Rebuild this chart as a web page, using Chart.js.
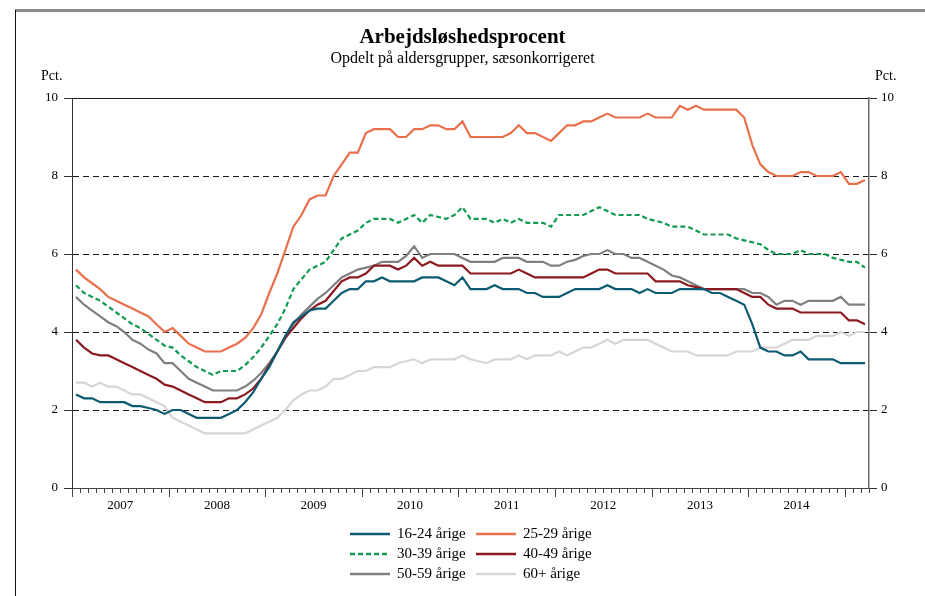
<!DOCTYPE html>
<html lang="da">
<head>
  <meta charset="UTF-8">
  <title>Arbejdsløshedsprocent</title>
  <script src="https://cdn.jsdelivr.net/npm/chart.js"></script>
  <style>
    body {
      margin: 0;
      background: #fff;
      font-family: 'Liberation Serif', serif;
      color: #000;
    }
    .page {
      position: relative;
      width: 925px;
      height: 596px;
      overflow: hidden;
    }
    .frame-top {
      position: absolute;
      left: 15px; top: 9px;
      width: 910px; height: 3px;
      background: #8a8a8a;
    }
    .frame-left {
      position: absolute;
      left: 15px; top: 10px;
      width: 1px; height: 586px;
      background: #111;
    }
    .chart-box {
      position: absolute;
      left: 0; top: 0;
      width: 925px; height: 596px;
    }
    h1, h2, .unit {
      position: absolute;
      margin: 0;
      white-space: nowrap;
    }
    h1 {
      left: 0; width: 925px; top: 24px;
      text-align: center;
      font-size: 21px;
      font-weight: bold;
    }
    h2 {
      left: 0; width: 925px; top: 49px;
      text-align: center;
      font-size: 16px;
      font-weight: normal;
    }
    .unit { top: 68px; font-size: 14px; }
    #legend {
      position: absolute;
      left: 350px; top: 524px;
      display: grid;
      grid-template-columns: 126px 126px;
      row-gap: 1px;
      font-size: 15px;
    }
    .item { display: flex; align-items: center; height: 19px; }
    .item svg { margin-right: 7px; }
  </style>
</head>
<body>
  <div class="page">
    <div class="frame-top"></div>
    <div class="frame-left"></div>
    <div class="chart-box"><canvas id="chart"></canvas></div>
    <h1>Arbejdsløshedsprocent</h1>
    <h2>Opdelt på aldersgrupper, sæsonkorrigeret</h2>
    <div class="unit" style="left:41px">Pct.</div>
    <div class="unit" style="left:875px">Pct.</div>
    <div id="legend"></div>
  </div>

  <script>
    // monthly, jan 2007 - mar 2015
    const years = ['2007', '2008', '2009', '2010', '2011', '2012', '2013', '2014'];
    const yTicks = [0, 2, 4, 6, 8, 10];

    const seriesNames = ['16-24 årige', '25-29 årige', '30-39 årige', '40-49 årige', '50-59 årige', '60+ årige'];

    const age1624 = [
      2.4, 2.3, 2.3, 2.2, 2.2, 2.2, 2.2, 2.1, 2.1, 2.05, 2.0, 1.9,
      2.0, 2.0, 1.9, 1.8, 1.8, 1.8, 1.8, 1.9, 2.0, 2.2, 2.45, 2.8,
      3.1, 3.5, 3.9, 4.25, 4.4, 4.55, 4.6, 4.6, 4.8, 5.0, 5.1, 5.1,
      5.3, 5.3, 5.4, 5.3, 5.3, 5.3, 5.3, 5.4, 5.4, 5.4, 5.3, 5.2,
      5.4, 5.1, 5.1, 5.1, 5.2, 5.1, 5.1, 5.1, 5.0, 5.0, 4.9, 4.9,
      4.9, 5.0, 5.1, 5.1, 5.1, 5.1, 5.2, 5.1, 5.1, 5.1, 5.0, 5.1,
      5.0, 5.0, 5.0, 5.1, 5.1, 5.1, 5.1, 5.0, 5.0, 4.9, 4.8, 4.7,
      4.2, 3.6, 3.5, 3.5, 3.4, 3.4, 3.5, 3.3, 3.3, 3.3, 3.3, 3.2,
      3.2, 3.2, 3.2
    ];
    const age2529 = [
      5.6, 5.4, 5.25, 5.1, 4.9, 4.8, 4.7, 4.6, 4.5, 4.4, 4.2, 4.0,
      4.1, 3.9, 3.7, 3.6, 3.5, 3.5, 3.5, 3.6, 3.7, 3.85, 4.1, 4.45,
      5.0, 5.5, 6.1, 6.7, 7.0, 7.4, 7.5, 7.5, 8.0, 8.3, 8.6, 8.6,
      9.1, 9.2, 9.2, 9.2, 9.0, 9.0, 9.2, 9.2, 9.3, 9.3, 9.2, 9.2,
      9.4, 9.0, 9.0, 9.0, 9.0, 9.0, 9.1, 9.3, 9.1, 9.1, 9.0, 8.9,
      9.1, 9.3, 9.3, 9.4, 9.4, 9.5, 9.6, 9.5, 9.5, 9.5, 9.5, 9.6,
      9.5, 9.5, 9.5, 9.8, 9.7, 9.8, 9.7, 9.7, 9.7, 9.7, 9.7, 9.5,
      8.8, 8.3, 8.1, 8.0, 8.0, 8.0, 8.1, 8.1, 8.0, 8.0, 8.0, 8.1,
      7.8, 7.8, 7.9
    ];
    const age3039 = [
      5.2, 5.0, 4.9, 4.8, 4.65, 4.5, 4.35, 4.2, 4.1, 3.95, 3.8, 3.65,
      3.6, 3.4, 3.25, 3.1, 3.0, 2.9, 3.0, 3.0, 3.0, 3.15, 3.35, 3.6,
      3.9, 4.2, 4.6, 5.1, 5.35, 5.6, 5.7, 5.8, 6.1, 6.4, 6.5, 6.6,
      6.8, 6.9, 6.9, 6.9, 6.8, 6.9, 7.0, 6.8, 7.0, 6.95, 6.9, 7.0,
      7.2, 6.9, 6.9, 6.9, 6.8, 6.9, 6.8, 6.9, 6.8, 6.8, 6.8, 6.7,
      7.0, 7.0, 7.0, 7.0, 7.1, 7.2, 7.1, 7.0, 7.0, 7.0, 7.0, 6.9,
      6.85, 6.8, 6.7, 6.7, 6.7, 6.6, 6.5, 6.5, 6.5, 6.5, 6.4, 6.35,
      6.3, 6.25, 6.1, 6.0, 6.0, 6.0, 6.1, 6.0, 6.0, 6.0, 5.9, 5.85,
      5.8, 5.8, 5.65
    ];
    const age4049 = [
      3.8, 3.6, 3.45, 3.4, 3.4, 3.3, 3.2, 3.1, 3.0, 2.9, 2.8, 2.65,
      2.6, 2.5, 2.4, 2.3, 2.2, 2.2, 2.2, 2.3, 2.3, 2.4, 2.55, 2.8,
      3.15, 3.5, 3.85, 4.1, 4.35, 4.55, 4.7, 4.8, 5.05, 5.3, 5.4, 5.4,
      5.5, 5.7, 5.7, 5.7, 5.6, 5.7, 5.9, 5.7, 5.8, 5.7, 5.7, 5.7,
      5.7, 5.5, 5.5, 5.5, 5.5, 5.5, 5.5, 5.6, 5.5, 5.4, 5.4, 5.4,
      5.4, 5.4, 5.4, 5.4, 5.5, 5.6, 5.6, 5.5, 5.5, 5.5, 5.5, 5.5,
      5.3, 5.3, 5.3, 5.3, 5.2, 5.15, 5.1, 5.1, 5.1, 5.1, 5.1, 5.0,
      4.9, 4.9, 4.7, 4.6, 4.6, 4.6, 4.5, 4.5, 4.5, 4.5, 4.5, 4.5,
      4.3, 4.3, 4.2
    ];
    const age5059 = [
      4.9, 4.7, 4.55, 4.4, 4.25, 4.15, 4.0, 3.8, 3.7, 3.55, 3.45, 3.2,
      3.2, 3.0, 2.8, 2.7, 2.6, 2.5, 2.5, 2.5, 2.5, 2.6, 2.75, 2.95,
      3.2, 3.5, 3.85, 4.2, 4.45, 4.65, 4.85, 5.0, 5.2, 5.4, 5.5, 5.6,
      5.65, 5.7, 5.8, 5.8, 5.8, 5.95, 6.2, 5.9, 6.0, 6.0, 6.0, 6.0,
      5.9, 5.8, 5.8, 5.8, 5.8, 5.9, 5.9, 5.9, 5.8, 5.8, 5.8, 5.7,
      5.7, 5.8, 5.85, 5.95, 6.0, 6.0, 6.1, 6.0, 6.0, 5.9, 5.9, 5.8,
      5.7, 5.6, 5.45, 5.4, 5.3, 5.2, 5.1, 5.1, 5.1, 5.1, 5.1, 5.1,
      5.0, 5.0, 4.9, 4.7, 4.8, 4.8, 4.7, 4.8, 4.8, 4.8, 4.8, 4.9,
      4.7, 4.7, 4.7
    ];
    const age60plus = [
      2.7, 2.7, 2.6, 2.7, 2.6, 2.6, 2.5, 2.4, 2.4, 2.3, 2.2, 2.1,
      1.8, 1.7, 1.6, 1.5, 1.4, 1.4, 1.4, 1.4, 1.4, 1.4, 1.5, 1.6,
      1.7, 1.8, 2.0, 2.25, 2.4, 2.5, 2.5, 2.6, 2.8, 2.8, 2.9, 3.0,
      3.0, 3.1, 3.1, 3.1, 3.2, 3.25, 3.3, 3.2, 3.3, 3.3, 3.3, 3.3,
      3.4, 3.3, 3.25, 3.2, 3.3, 3.3, 3.3, 3.4, 3.3, 3.4, 3.4, 3.4,
      3.5, 3.4, 3.5, 3.6, 3.6, 3.7, 3.8, 3.7, 3.8, 3.8, 3.8, 3.8,
      3.7, 3.6, 3.5, 3.5, 3.5, 3.4, 3.4, 3.4, 3.4, 3.4, 3.5, 3.5,
      3.5, 3.6, 3.6, 3.6, 3.7, 3.8, 3.8, 3.8, 3.9, 3.9, 3.9, 4.0,
      3.9, 4.0, 4.0
    ];

    const allSeries = [age1624, age2529, age3039, age4049, age5059, age60plus];
    const colors = ['#0d5b72', '#e9704c', '#119b50', '#8b1a20', '#808080', '#d6d6d6'];
    const dashes = [[], [], [5, 3], [], [], []];

    const nMonths = age1624.length;
    const font = { family: "'Liberation Serif', serif", size: 13 };

    // little tick marks for every month, longer ones at the turn of the year
    const monthTicks = {
      id: 'monthTicks',
      afterDraw(chart) {
        const xs = chart.scales.x;
        const ctx = chart.ctx;
        ctx.save();
        ctx.strokeStyle = '#444';
        ctx.lineWidth = 1;
        for (let k = 0; k <= nMonths; k++) {
          const px = Math.round(xs.getPixelForValue(k - 0.5)) + 0.5;
          const len = k % 12 === 0 ? 9 : 5;
          ctx.beginPath();
          ctx.moveTo(px, xs.top);
          ctx.lineTo(px, xs.top + len);
          ctx.stroke();
        }
        ctx.restore();
      }
    };

    const chart = new Chart(document.getElementById('chart'), {
      type: 'line',
      data: {
        datasets: allSeries.map((vals, i) => ({
          label: seriesNames[i],
          data: vals.map((v, k) => ({ x: k, y: v })),
          borderColor: colors[i],
          borderWidth: 2.2,
          borderDash: dashes[i],
          pointRadius: 0,
          tension: 0,
          fill: false
        }))
      },
      options: {
        responsive: true,
        maintainAspectRatio: false,
        animation: false,
        layout: { padding: { top: 98, left: 0, right: 0, bottom: 0 } },
        plugins: {
          legend: { display: false },
          tooltip: { enabled: false }
        },
        scales: {
          x: {
            type: 'linear',
            min: -0.5,
            max: nMonths - 0.5,
            afterBuildTicks: s => { s.ticks = years.map((y, i) => ({ value: i * 12 + 5.5 })); },
            afterFit: s => { s.height = 108; },
            ticks: {
              autoSkip: false,
              maxRotation: 0,
              padding: 10,
              font: font,
              color: '#000',
              callback: (v, i) => years[i]
            },
            grid: { display: false, drawTicks: false },
            border: { display: true, color: '#444', width: 1 }
          },
          y: {
            position: 'left',
            min: 0,
            max: 10,
            afterBuildTicks: s => { s.ticks = yTicks.map(v => ({ value: v })); },
            afterFit: s => { s.width = 72; },
            ticks: { padding: 6, font: font, color: '#000' },
            grid: {
              color: c => (c.tick && c.tick.value === 0) ? 'rgba(0,0,0,0)' : '#1a1a1a',
              lineWidth: 1,
              tickLength: 8,
              tickColor: '#333'
            },
            border: {
              display: true,
              color: '#333',
              width: 1,
              dash: c => (c.tick && c.tick.value > 0 && c.tick.value < 10) ? [6, 4] : []
            }
          },
          y2: {
            position: 'right',
            min: 0,
            max: 10,
            afterBuildTicks: s => { s.ticks = yTicks.map(v => ({ value: v })); },
            afterFit: s => { s.width = 56; },
            ticks: { padding: 4, font: font, color: '#000' },
            grid: { drawOnChartArea: false, tickLength: 8, tickColor: '#333' },
            border: { display: true, color: '#6a6a6a', width: 1.5 }
          }
        }
      },
      plugins: [monthTicks]
    });

    // legend in two columns, built from the datasets
    const legend = document.getElementById('legend');
    chart.data.datasets.forEach(ds => {
      const item = document.createElement('div');
      item.className = 'item';
      const dash = ds.borderDash.length ? `stroke-dasharray="${ds.borderDash.join(',')}"` : '';
      item.innerHTML = `<svg width="40" height="10"><line x1="0" y1="5" x2="40" y2="5" stroke="${ds.borderColor}" stroke-width="2.5" ${dash}/></svg><span>${ds.label}</span>`;
      legend.appendChild(item);
    });
  </script>
</body>
</html>
